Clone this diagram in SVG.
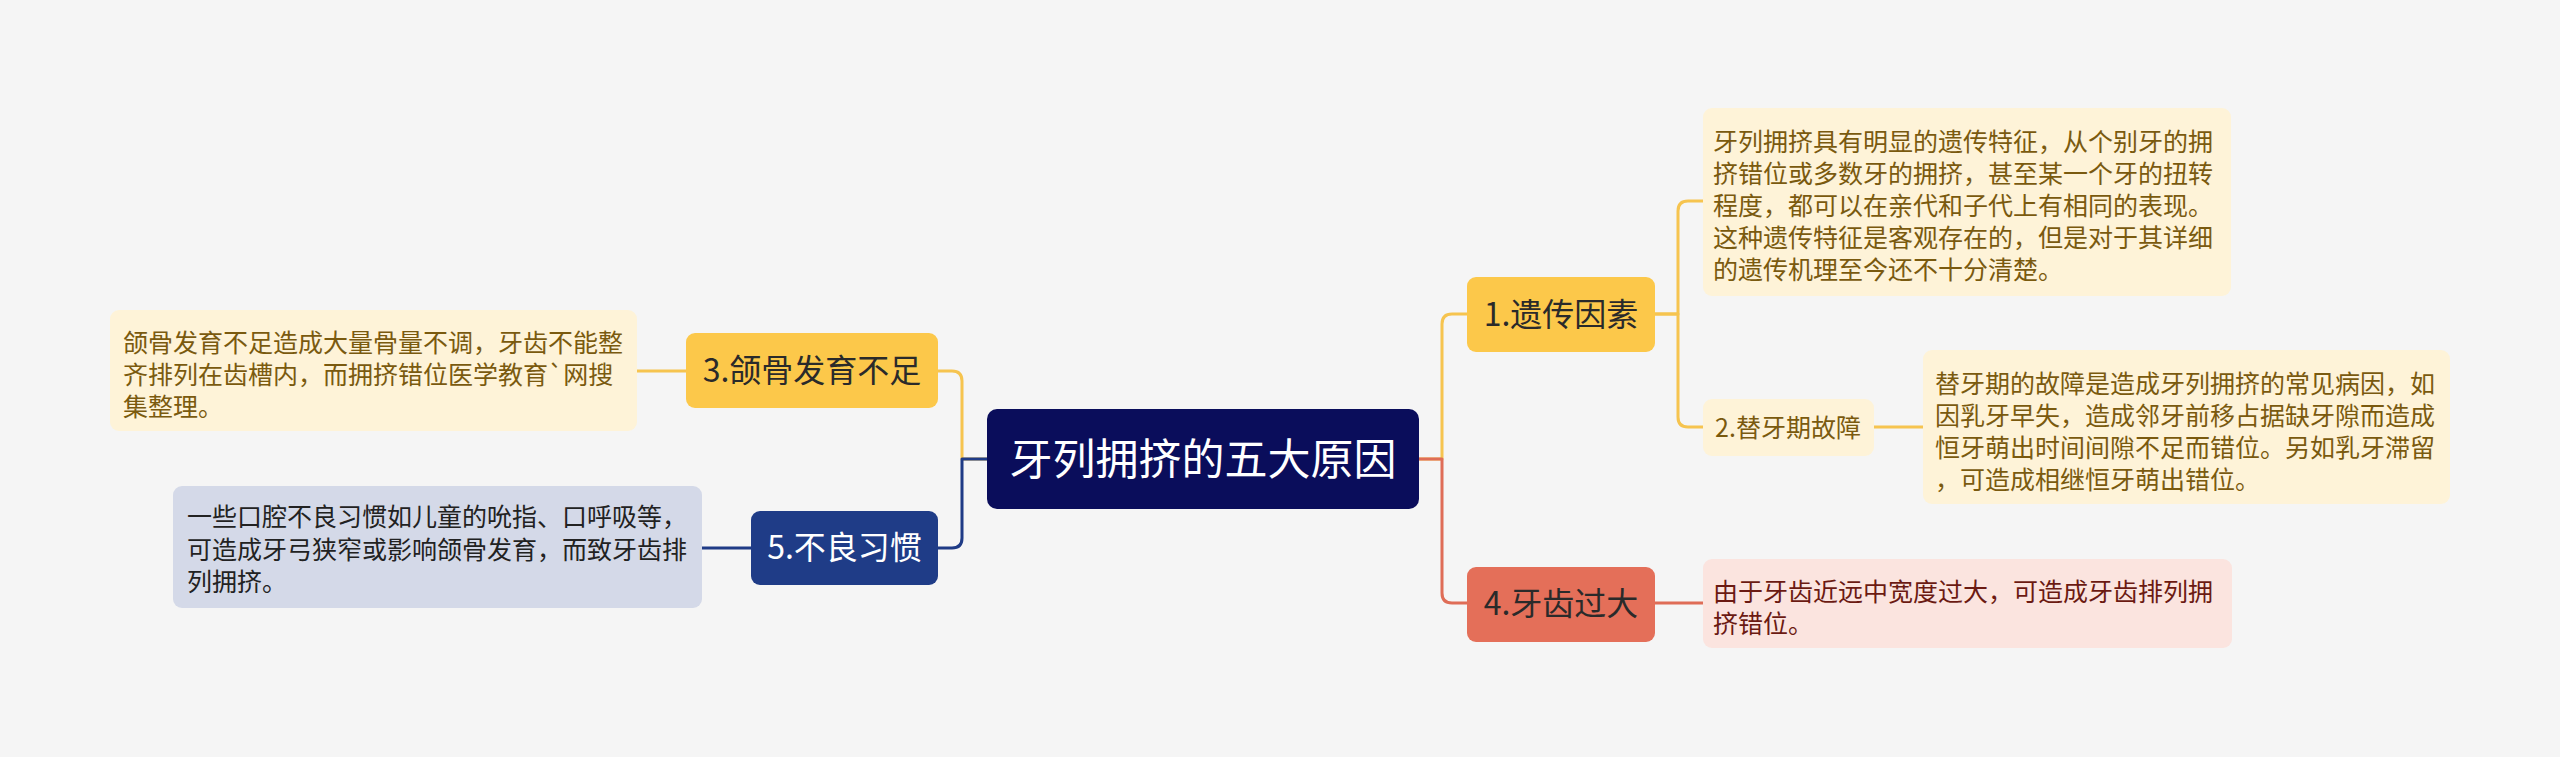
<svg xmlns="http://www.w3.org/2000/svg" width="2560" height="757" viewBox="0 0 2560 757">
<style>
text{font-family:"Noto Sans CJK SC","Noto Sans",sans-serif;}
.ln{fill:none;stroke-width:3;stroke-linecap:butt;stroke-linejoin:round;}
.y{stroke:#f6c44f;}
.r{stroke:#df6d57;}
.b{stroke:#1f3b86;}
.nodeY{fill:#fcc84a;}
.descY{fill:#fef3d8;}
.tN{font-size:32px;fill:#2a2a2a;text-anchor:middle;}
.tD{font-size:25px;fill:#7a5a0f;}
</style>
<rect width="2560" height="757" fill="#f5f5f5"/>
<g id="connectors">
<path class="ln y" d="M1419,459 H1442 V324 Q1442,314 1452,314 H1467"/>
<path class="ln r" d="M1419,459 H1442 V593 Q1442,603 1452,603 H1467"/>
<path class="ln y" d="M987,459 H962 V381 Q962,371 952,371 H938"/>
<path class="ln b" d="M987,459 H962 V538 Q962,548 952,548 H938"/>
<path class="ln y" d="M1655,314 H1678 V211 Q1678,201 1688,201 H1703"/>
<path class="ln y" d="M1655,314 H1678 V417 Q1678,427 1688,427 H1703"/>
<path class="ln y" d="M1874,427 H1923"/>
<path class="ln r" d="M1655,603 H1703"/>
<path class="ln y" d="M686,371 H637"/>
<path class="ln b" d="M751,548 H702"/>
</g>
<g id="center">
<rect x="987" y="409" width="432" height="100" rx="10" fill="#0a0d5b"/>
<text x="1203" y="475" font-size="43" fill="#ffffff" text-anchor="middle">牙列拥挤的五大原因</text>
</g>
<g id="n1">
<rect class="nodeY" x="1467" y="277" width="188" height="75" rx="9"/>
<text class="tN" x="1561" y="326">1.遗传因素</text>
</g>
<g id="d1">
<rect class="descY" x="1703" y="108" width="528" height="188" rx="9"/>
<text class="tD"><tspan x="1713" y="151">牙列拥挤具有明显的遗传特征，从个别牙的拥</tspan><tspan x="1713" y="183">挤错位或多数牙的拥挤，甚至某一个牙的扭转</tspan><tspan x="1713" y="215">程度，都可以在亲代和子代上有相同的表现。</tspan><tspan x="1713" y="247">这种遗传特征是客观存在的，但是对于其详细</tspan><tspan x="1713" y="279">的遗传机理至今还不十分清楚。</tspan></text>
</g>
<g id="n2">
<rect class="descY" x="1703" y="399" width="171" height="57" rx="9"/>
<text class="tD" x="1788" y="437" text-anchor="middle">2.替牙期故障</text>
</g>
<g id="d2">
<rect class="descY" x="1923" y="350" width="527" height="154" rx="9"/>
<text class="tD"><tspan x="1935" y="393">替牙期的故障是造成牙列拥挤的常见病因，如</tspan><tspan x="1935" y="425">因乳牙早失，造成邻牙前移占据缺牙隙而造成</tspan><tspan x="1935" y="457">恒牙萌出时间间隙不足而错位。另如乳牙滞留</tspan><tspan x="1935" y="489">，可造成相继恒牙萌出错位。</tspan></text>
</g>
<g id="n4">
<rect x="1467" y="567" width="188" height="75" rx="9" fill="#e46f59"/>
<text class="tN" x="1561" y="615">4.牙齿过大</text>
</g>
<g id="d4">
<rect x="1703" y="559" width="529" height="89" rx="9" fill="#fbe4df"/>
<text font-size="25" fill="#6b1a12"><tspan x="1713" y="601">由于牙齿近远中宽度过大，可造成牙齿排列拥</tspan><tspan x="1713" y="633">挤错位。</tspan></text>
</g>
<g id="n3">
<rect class="nodeY" x="686" y="333" width="252" height="75" rx="9"/>
<text class="tN" x="812" y="382">3.颌骨发育不足</text>
</g>
<g id="d3">
<rect class="descY" x="110" y="310" width="527" height="121" rx="9"/>
<text class="tD"><tspan x="123" y="352">颌骨发育不足造成大量骨量不调，牙齿不能整</tspan><tspan x="123" y="384">齐排列在齿槽内，而拥挤错位医学教育`网搜</tspan><tspan x="123" y="416">集整理。</tspan></text>
</g>
<g id="n5">
<rect x="751" y="511" width="187" height="74" rx="9" fill="#1f3c87"/>
<text class="tN" x="844.5" y="559" fill="#ffffff" style="fill:#ffffff">5.不良习惯</text>
</g>
<g id="d5">
<rect x="173" y="486" width="529" height="122" rx="9" fill="#d4d9e8"/>
<text font-size="25" fill="#222222"><tspan x="187" y="526">一些口腔不良习惯如儿童的吮指、口呼吸等，</tspan><tspan x="187" y="559">可造成牙弓狭窄或影响颌骨发育，而致牙齿排</tspan><tspan x="187" y="591">列拥挤。</tspan></text>
</g>
</svg>
